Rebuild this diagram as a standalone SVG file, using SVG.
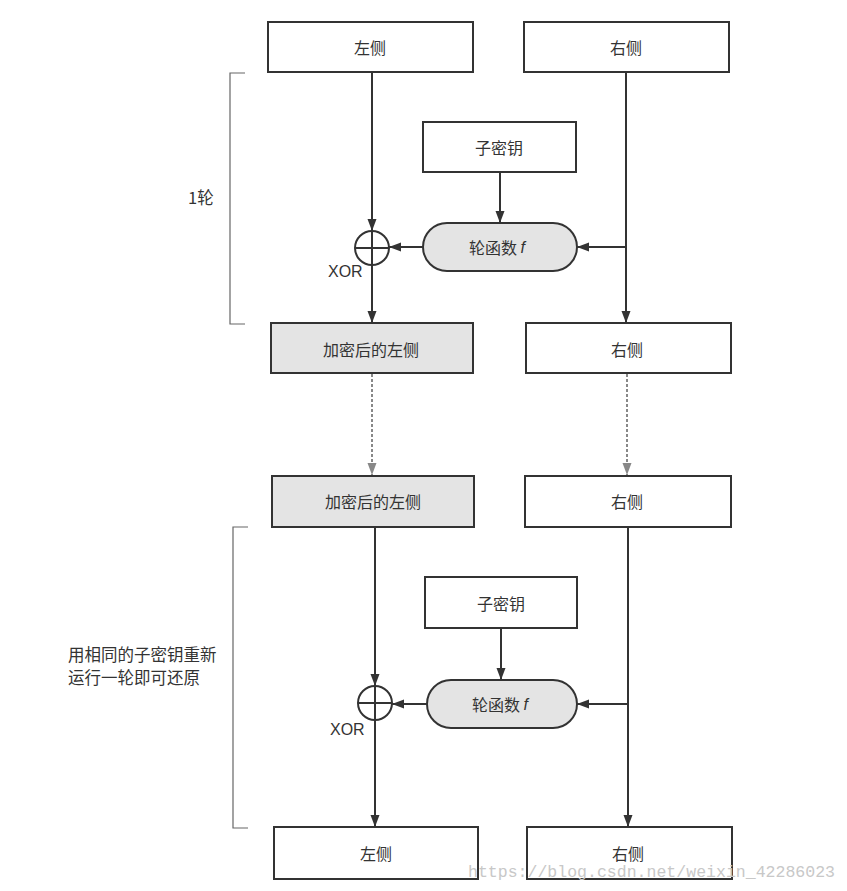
<svg xmlns="http://www.w3.org/2000/svg" width="847" height="891" viewBox="0 0 847 891">
<style>
.box{fill:#fff;stroke:#333;stroke-width:2}
.gbox{fill:#e4e4e4;stroke:#333;stroke-width:2}
.pill{fill:#e4e4e4;stroke:#333;stroke-width:2}
.lbl{font-family:"Noto Sans CJK SC","Liberation Sans",sans-serif;font-size:16px;fill:#333;text-anchor:middle;dominant-baseline:central}
.side{font-family:"Noto Sans CJK SC","Liberation Sans",sans-serif;font-size:16.5px;fill:#333}
.xor{font-family:"Liberation Sans",sans-serif;font-size:16px;fill:#333}
.ln{fill:none;stroke:#333;stroke-width:2}
.dash{fill:none;stroke:#888;stroke-width:2;stroke-dasharray:3 2}
.brk{fill:none;stroke:#666;stroke-width:1.2}
.wm{font-family:"Liberation Mono",monospace;font-size:17px;fill:#c8c8c8}
</style>
<defs>
<marker id="ah" markerUnits="userSpaceOnUse" markerWidth="12" markerHeight="12" viewBox="0 0 12 12" refX="12" refY="6" orient="auto"><path d="M0,1.5 L12,6 L0,10.5 Z" fill="#333"/></marker>
<marker id="ahg" markerUnits="userSpaceOnUse" markerWidth="12" markerHeight="12" viewBox="0 0 12 12" refX="12" refY="6" orient="auto"><path d="M0,1.5 L12,6 L0,10.5 Z" fill="#888"/></marker>
</defs>

<g id="brackets">
<path class="brk" d="M245,73 H230 V324 H245"/>
<text class="side" x="188" y="204">1轮</text>
<path class="brk" d="M248,527 H233 V828 H248"/>
<text class="side" x="68" y="661">用相同的子密钥重新</text>
<text class="side" x="68" y="684">运行一轮即可还原</text>
</g>

<g id="connectors">
<line class="ln" x1="372" y1="72" x2="372" y2="231" marker-end="url(#ah)"/>
<line class="ln" x1="372" y1="265" x2="372" y2="323" marker-end="url(#ah)"/>
<line class="ln" x1="626" y1="72" x2="626" y2="323" marker-end="url(#ah)"/>
<line class="ln" x1="626" y1="247" x2="577" y2="247" marker-end="url(#ah)"/>
<line class="ln" x1="423" y1="247" x2="389" y2="247" marker-end="url(#ah)"/>
<line class="ln" x1="500" y1="172" x2="500" y2="223" marker-end="url(#ah)"/>
<line class="dash" x1="372" y1="374" x2="372" y2="475" marker-end="url(#ahg)"/>
<line class="dash" x1="627" y1="374" x2="627" y2="475" marker-end="url(#ahg)"/>
<line class="ln" x1="375" y1="527" x2="375" y2="686" marker-end="url(#ah)"/>
<line class="ln" x1="375" y1="720" x2="375" y2="827" marker-end="url(#ah)"/>
<line class="ln" x1="628" y1="527" x2="628" y2="827" marker-end="url(#ah)"/>
<line class="ln" x1="628" y1="704" x2="577" y2="704" marker-end="url(#ah)"/>
<line class="ln" x1="427" y1="704" x2="392" y2="704" marker-end="url(#ah)"/>
<line class="ln" x1="501" y1="628" x2="501" y2="680" marker-end="url(#ah)"/>
</g>

<g id="left1"><rect class="box" x="268" y="22" width="205" height="50"/><text class="lbl" x="370" y="47">左侧</text></g>
<g id="right1"><rect class="box" x="524" y="22" width="205" height="50"/><text class="lbl" x="626" y="47">右侧</text></g>
<g id="subkey1"><rect class="box" x="423" y="122" width="153" height="50"/><text class="lbl" x="499" y="147">子密钥</text></g>
<g id="f1"><rect class="pill" x="423" y="223" width="154" height="48" rx="24"/><text class="lbl" x="497" y="247">轮函数 <tspan font-style="italic" font-family="Liberation Sans">f</tspan></text></g>
<g id="xor1"><circle cx="372" cy="248" r="17" fill="#fff" stroke="#333" stroke-width="2"/><path class="ln" d="M355,248 H389 M372,231 V265"/><text class="xor" x="328" y="277">XOR</text></g>
<g id="encleft1"><rect class="gbox" x="271" y="323" width="202" height="50"/><text class="lbl" x="371" y="349">加密后的左侧</text></g>
<g id="right2"><rect class="box" x="526" y="323" width="205" height="50"/><text class="lbl" x="627" y="349">右侧</text></g>
<g id="encleft2"><rect class="gbox" x="272" y="476" width="202" height="51"/><text class="lbl" x="373" y="501">加密后的左侧</text></g>
<g id="right3"><rect class="box" x="525" y="476" width="206" height="51"/><text class="lbl" x="627" y="501">右侧</text></g>
<g id="subkey2"><rect class="box" x="425" y="577" width="152" height="51"/><text class="lbl" x="501" y="603">子密钥</text></g>
<g id="f2"><rect class="pill" x="427" y="680" width="150" height="48" rx="24"/><text class="lbl" x="500" y="704">轮函数 <tspan font-style="italic" font-family="Liberation Sans">f</tspan></text></g>
<g id="xor2"><circle cx="375" cy="703" r="17" fill="#fff" stroke="#333" stroke-width="2"/><path class="ln" d="M358,703 H392 M375,686 V720"/><text class="xor" x="330" y="735">XOR</text></g>
<g id="left4"><rect class="box" x="274" y="827" width="204" height="52"/><text class="lbl" x="376" y="853">左侧</text></g>
<g id="right4"><rect class="box" x="527" y="827" width="205" height="52"/><text class="lbl" x="628" y="853">右侧</text></g>

<text class="wm" x="468" y="877" textLength="367" lengthAdjust="spacingAndGlyphs">https://blog.csdn.net/weixin_42286023</text>
</svg>
